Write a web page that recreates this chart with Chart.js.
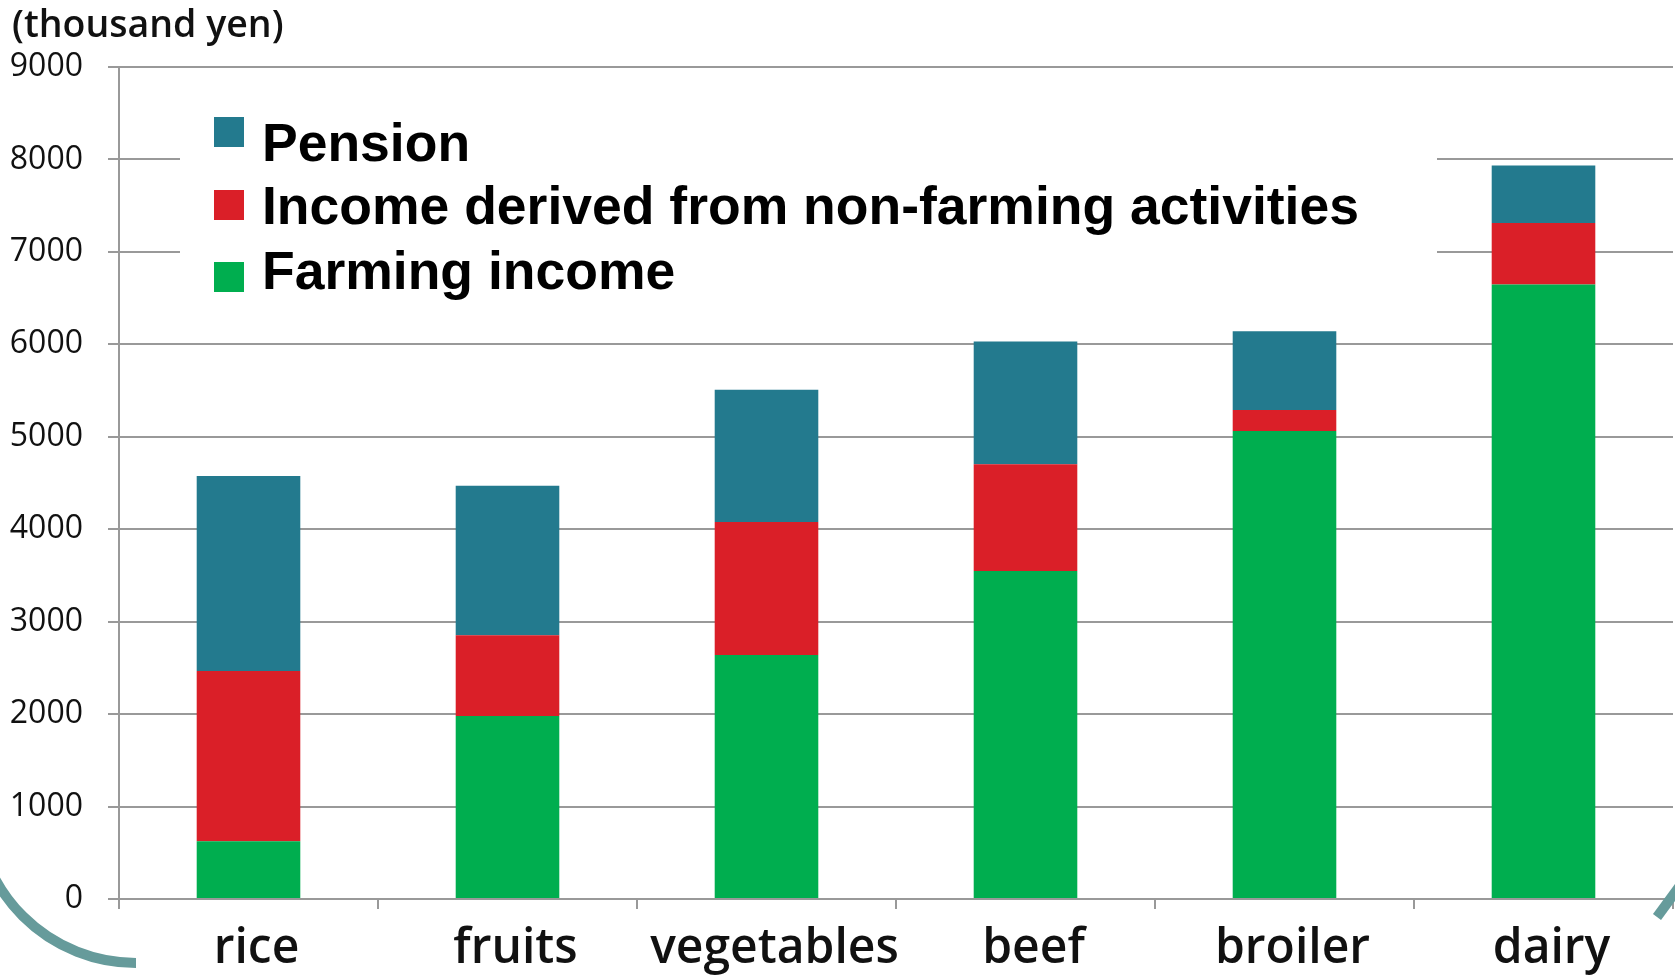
<!DOCTYPE html>
<html><head><meta charset="utf-8">
<script src="https://cdn.jsdelivr.net/npm/chart.js@4.4.0/dist/chart.umd.min.js"></script>
<style>
html,body{margin:0;padding:0;background:#fff;}
#wrap{position:relative;width:1675px;height:975px;overflow:hidden;background:#fff;}
#c{position:absolute;left:0;top:0;}
#unit{position:absolute;left:12px;top:-3px;font-family:'Open Sans',sans-serif;font-weight:600;font-size:37.5px;color:#111;white-space:nowrap;}
#legend{position:absolute;left:180px;top:100px;width:1257px;height:212px;background:#fff;}
.sw{position:absolute;left:34px;width:30px;height:30px;}
.lt{position:absolute;left:82px;font-family:'Liberation Sans',Arial,sans-serif;font-weight:bold;font-size:53.5px;line-height:53px;white-space:nowrap;color:#000;}
</style></head>
<body>
<div id="wrap">
<canvas id="c" width="1675" height="975"></canvas>
<div id="unit">(thousand yen)</div>
<div id="legend"></div>
</div>
<script>
const categories = ['rice','fruits','vegetables','beef','broiler','dairy'];
const farmingIncome = [625, 1980, 2640, 3548, 5062, 6646];
const nonFarmingIncome = [1840, 873, 1437, 1154, 229, 667];
const pension = [2111, 1617, 1431, 1330, 851, 622];
const yTicks = [0,1000,2000,3000,4000,5000,6000,7000,8000,9000];
const seriesNames = ['Farming income','Income derived from non-farming activities','Pension'];
const seriesColors = ['#00ae4f','#da1f28','#237a8e'];

const deco = {
  id:'deco',
  afterDraw(ch){
    const c = ch.ctx;
    c.save();
    c.strokeStyle = '#669b9b';
    c.lineWidth = 10;
    c.lineCap = 'butt';
    c.beginPath();
    c.arc(136, 803, 160, Math.PI/2, Math.PI);
    c.stroke();
    c.beginPath();
    c.moveTo(1657, 917);
    c.lineTo(1679, 887);
    c.stroke();
    c.restore();
  }
};

const datasets = [farmingIncome, nonFarmingIncome, pension].map((d,i)=>({
  label: seriesNames[i],
  data: d,
  backgroundColor: seriesColors[i],
  borderWidth: 0,
  barPercentage: 0.4,
  categoryPercentage: 1.0
}));

new Chart(document.getElementById('c'), {
  type:'bar',
  data:{labels:categories, datasets},
  plugins:[deco],
  options:{
    responsive:false, animation:false, devicePixelRatio:1,
    layout:{padding:{top:67,right:2,left:0,bottom:0}},
    plugins:{legend:{display:false},tooltip:{enabled:false}},
    scales:{
      x:{
        stacked:true, offset:true,
        grid:{display:true,drawOnChartArea:false,drawTicks:true,tickLength:10,color:'#999',lineWidth:2,offset:true},
        border:{display:true,color:'#999',width:2},
        ticks:{font:{family:'Open Sans',size:48,weight:'600'},color:'#111',padding:12,labelOffset:8,maxRotation:0},
        afterFit(s){s.height=76;}
      },
      y:{
        stacked:true, min:yTicks[0], max:yTicks[yTicks.length-1],
        afterBuildTicks(s){s.ticks = yTicks.map(v=>({value:v}));},
        ticks:{font:{family:'Open Sans',size:32},color:'#111',padding:25,callback:v=>String(v)},
        grid:{color:'#999',lineWidth:2,tickLength:11},
        border:{color:'#999',width:2},
        afterFit(s){s.width=119;}
      }
    }
  }
});

// HTML legend (top to bottom: Pension, Non-farming, Farming)
const lg = document.getElementById('legend');
const swTops = [17, 90, 162];
const txtTops = [16, 79, 144];
[2,1,0].forEach((k,row)=>{
  const s = document.createElement('div');
  s.className='sw'; s.style.top=swTops[row]+'px'; s.style.background=seriesColors[k];
  lg.appendChild(s);
  const t = document.createElement('div');
  t.className='lt'; t.style.top=txtTops[row]+'px'; t.textContent=seriesNames[k];
  lg.appendChild(t);
});
</script>
</body></html>
